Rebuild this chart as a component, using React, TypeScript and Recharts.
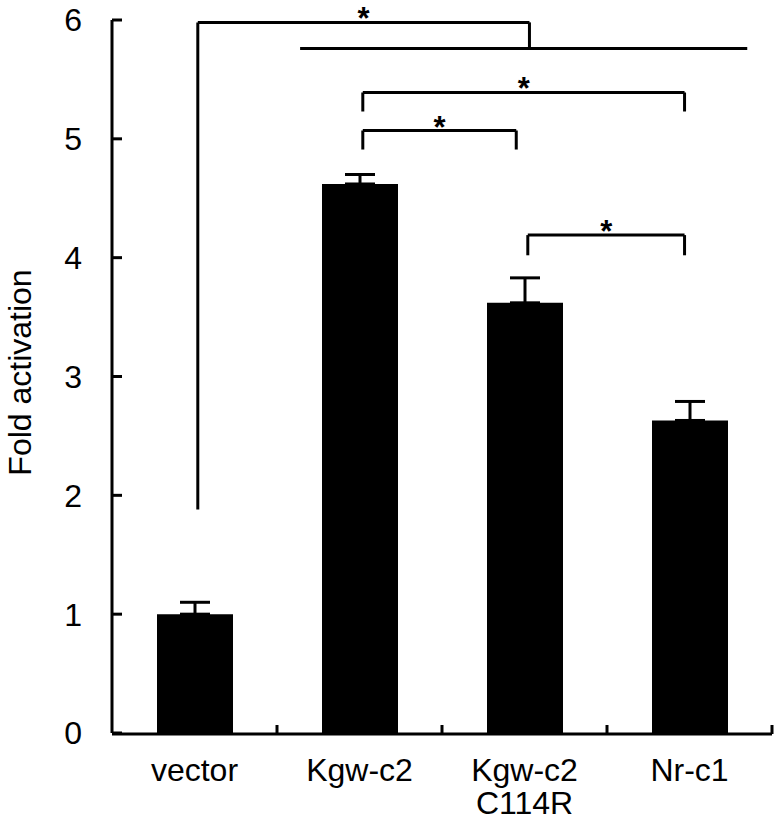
import { Bar, BarChart, ErrorBar, ReferenceLine, XAxis, YAxis } from 'recharts'

const categories = ['vector', 'Kgw-c2', 'Kgw-c2\nC114R', 'Nr-c1']
const foldValues = [1.0, 4.62, 3.62, 2.63]
const upperErrors = [0.1, 0.08, 0.21, 0.16]
const yTicks = [0, 1, 2, 3, 4, 5, 6]
const boundaryTicks = [1, 2, 3, 4]

// significance brackets, in data units (x on a 0..4 position scale)
const bracketFrom = [0.52, 1.52, 1.52, 2.52]
const bracketTo = [2.53, 3.47, 2.45, 3.47]
const bracketLevel = [5.98, 5.39, 5.07, 4.19]
const bracketLeftFoot = [1.88, 5.23, 4.91, 4.02]
const bracketRightFoot = [5.76, 5.23, 4.91, 4.02]
const groupLine = { from: 1.14, to: 3.85, level: 5.76 }

const FONT = '"Liberation Sans", Arial, sans-serif'

const data = categories.map((name, i) => ({ name, slot: i + 0.5, fold: foldValues[i], err: [0, upperErrors[i]] }))

function CategoryTick({ x, y, payload }: any) {
  const lines = String(payload.value).split('\n')
  return (
    <text x={x} y={y} textAnchor="middle" fontSize={32} fill="#000" fontFamily={FONT}>
      {lines.map((line, i) => (
        <tspan key={i} x={x} dy={i === 0 ? 48 : 33}>{line}</tspan>
      ))}
    </text>
  )
}

function StarLabel({ viewBox }: any) {
  if (!viewBox) return null
  return (
    <text x={viewBox.x + viewBox.width / 2} y={viewBox.y + 7} textAnchor="middle" fontSize={31} fontWeight="bold" fill="#000" fontFamily={FONT}>
      *
    </text>
  )
}

function YLabel({ viewBox }: any) {
  const cx = 20
  const cy = viewBox.y + viewBox.height / 2 - 4
  return (
    <text x={cx} y={cy} transform={`rotate(-90 ${cx} ${cy})`} textAnchor="middle" dominantBaseline="central" fontSize={32} fill="#000" fontFamily={FONT}>
      Fold activation
    </text>
  )
}

const lineStyle = { stroke: '#000', strokeWidth: 3 }

function App() {
  return (
    <div style={{ position: 'absolute', left: 0, top: 0, background: '#fff' }}>
      <BarChart width={778} height={828} data={data} margin={{ top: 20, right: 6, bottom: 93, left: 0 }} barSize={76}>
        <XAxis xAxisId="pos" dataKey="slot" type="number" scale="linear" domain={[0, 4]} ticks={boundaryTicks} allowDataOverflow height={1} tickSize={-9} tickFormatter={() => ''} axisLine={lineStyle} tickLine={lineStyle} />
        <XAxis dataKey="name" height={1} tickSize={0} tickMargin={0} interval={0} axisLine={false} tickLine={false} tick={<CategoryTick />} />
        <YAxis domain={[0, 6]} ticks={yTicks} width={112} tickSize={-10} tickMargin={40} axisLine={lineStyle} tickLine={lineStyle} tick={{ fontSize: 32, fill: '#000', fontFamily: FONT }} label={<YLabel />} />
        <Bar dataKey="fold" fill="#000" isAnimationActive={false}>
          <ErrorBar dataKey="err" direction="y" width={15} stroke="#000" strokeWidth={3} />
        </Bar>
        {bracketFrom.map((from, i) => (
          <ReferenceLine key={`h${i}`} xAxisId="pos" segment={[{ x: from, y: bracketLevel[i] }, { x: bracketTo[i], y: bracketLevel[i] }]} {...lineStyle} label={<StarLabel />} />
        ))}
        {bracketFrom.map((from, i) => (
          <ReferenceLine key={`l${i}`} xAxisId="pos" segment={[{ x: from, y: bracketLevel[i] }, { x: from, y: bracketLeftFoot[i] }]} {...lineStyle} />
        ))}
        {bracketTo.map((to, i) => (
          <ReferenceLine key={`r${i}`} xAxisId="pos" segment={[{ x: to, y: bracketLevel[i] }, { x: to, y: bracketRightFoot[i] }]} {...lineStyle} />
        ))}
        <ReferenceLine xAxisId="pos" segment={[{ x: groupLine.from, y: groupLine.level }, { x: groupLine.to, y: groupLine.level }]} {...lineStyle} />
      </BarChart>
    </div>
  )
}

export default App
